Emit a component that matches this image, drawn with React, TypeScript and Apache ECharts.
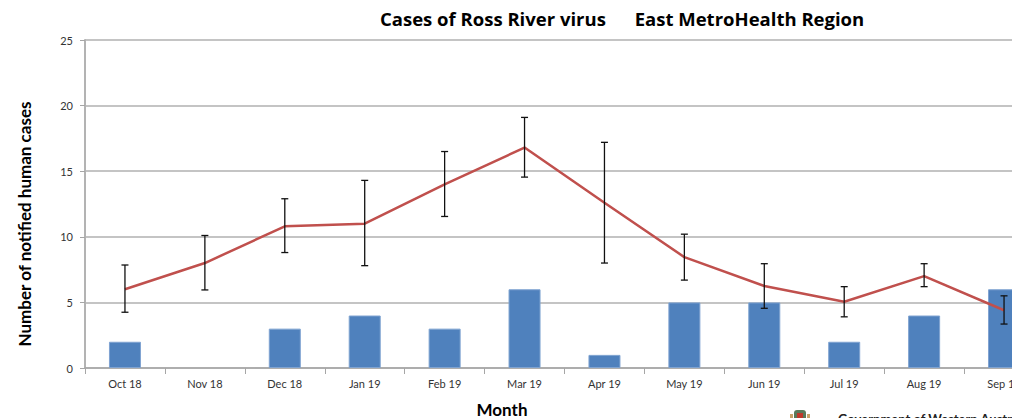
import React, { useEffect, useRef } from "react";
import * as echarts from "echarts";

const months = ["Oct 18", "Nov 18", "Dec 18", "Jan 19", "Feb 19", "Mar 19", "Apr 19", "May 19", "Jun 19", "Jul 19", "Aug 19", "Sep 19"];
const cases = [2, 0, 3, 4, 3, 6, 1, 5, 5, 2, 4, 6];
const expected = [6.0, 8.0, 10.8, 11.0, 14.0, 16.8, 12.6, 8.45, 6.25, 5.05, 7.0, 4.4];
const lower = [4.25, 5.95, 8.8, 7.8, 11.55, 14.55, 8.0, 6.7, 4.55, 3.9, 6.2, 3.35];
const upper = [7.85, 10.1, 12.9, 14.3, 16.5, 19.1, 17.2, 10.2, 7.95, 6.2, 7.95, 5.5];
const yTicks = [0, 5, 10, 15, 20, 25];

const FONT = "Lato, 'Open Sans', sans-serif";
const TITLE_FONT = "'Open Sans', Lato, sans-serif";

export default function App() {
  const ref = useRef<HTMLDivElement>(null);
  useEffect(() => {
    if (!ref.current) return;
    const chart = echarts.init(ref.current, null, { renderer: "svg" });
    const errData = months.map((_, i) => [i, lower[i], upper[i]]);
    chart.setOption({
      animation: false,
      textStyle: { fontFamily: FONT },
      grid: { left: 85, right: 6, top: 40, bottom: 50 },
      xAxis: {
        type: "category",
        data: months,
        boundaryGap: true,
        axisLine: { lineStyle: { color: "#a6a6a6", width: 1.5 } },
        axisTick: { show: true, alignWithLabel: false, length: 6, lineStyle: { color: "#a6a6a6", width: 1 } },
        axisLabel: { color: "#333", fontSize: 11, margin: 10, fontFamily: FONT, interval: 0 },
        splitLine: { show: false },
      },
      yAxis: {
        type: "value",
        min: yTicks[0],
        max: yTicks[yTicks.length - 1],
        interval: 5,
        axisLine: { show: true, lineStyle: { color: "#b3b3b3", width: 2 } },
        axisTick: { show: true, length: 5, lineStyle: { color: "#a6a6a6", width: 1 } },
        axisLabel: { color: "#333", fontSize: 11, margin: 12, fontFamily: FONT },
        splitLine: { show: true, lineStyle: { color: "#b0b0b0", width: 1.5 } },
      },
      series: [
        {
          type: "bar",
          data: cases.map((v) => (v === 0 ? null : v)),
          barWidth: 32,
          itemStyle: { color: "#4F81BD", borderColor: "#7fa3d1", borderWidth: 1 },
          z: 2,
        },
        {
          type: "line",
          data: expected,
          showSymbol: false,
          symbol: "none",
          lineStyle: { color: "#C0504D", width: 2.5 },
          z: 3,
        },
        {
          type: "custom",
          data: errData,
          z: 4,
          renderItem: (params: any, api: any) => {
            const x = api.value(0);
            const lo = api.coord([x, api.value(1)]);
            const hi = api.coord([x, api.value(2)]);
            const cap = 3.5;
            const style = { stroke: "#111", lineWidth: 1.3 };
            return {
              type: "group",
              children: [
                { type: "line", shape: { x1: lo[0], y1: lo[1], x2: hi[0], y2: hi[1] }, style },
                { type: "line", shape: { x1: hi[0] - cap, y1: hi[1], x2: hi[0] + cap, y2: hi[1] }, style },
                { type: "line", shape: { x1: lo[0] - cap, y1: lo[1], x2: lo[0] + cap, y2: lo[1] }, style },
              ],
            };
          },
        },
      ],
      graphic: [
        {
          type: "text",
          left: 380,
          top: 9,
          style: {
            text: "Cases of Ross River virus      East MetroHealth Region",
            font: `bold 18.5px ${TITLE_FONT}`,
            fill: "#000",
          },
        },
        {
          type: "text",
          x: 24,
          y: 224,
          rotation: Math.PI / 2,
          style: {
            text: "Number of notified human cases",
            font: `bold 17px ${FONT}`,
            fill: "#000",
            align: "center",
            verticalAlign: "middle",
          },
        },
        {
          type: "text",
          x: 502,
          y: 409,
          style: {
            text: "Month",
            font: `bold 17px ${FONT}`,
            fill: "#000",
            align: "center",
            verticalAlign: "middle",
          },
        },
        {
          type: "group",
          x: 790,
          y: 408,
          children: [
            { type: "rect", shape: { x: 4, y: 2, width: 12, height: 12, r: 3 }, style: { fill: "#5a7a5a" } },
            { type: "rect", shape: { x: 7, y: 5, width: 6, height: 6 }, style: { fill: "#c0392b" } },
            { type: "rect", shape: { x: 0, y: 6, width: 3, height: 6 }, style: { fill: "#c9a36a" } },
            { type: "rect", shape: { x: 17, y: 6, width: 3, height: 6 }, style: { fill: "#c9a36a" } },
          ],
        },
        {
          type: "text",
          x: 838,
          y: 412,
          style: {
            text: "Government of Western Australia",
            font: `bold 13px ${FONT}`,
            fill: "#222",
          },
        },
      ],
    });
    return () => chart.dispose();
  }, []);
  return (
    <div style={{ position: "absolute", left: 0, top: 0, width: 1012, height: 418, overflow: "hidden", background: "#fff" }}>
      <div ref={ref} style={{ width: 1050, height: 418 }} />
    </div>
  );
}
